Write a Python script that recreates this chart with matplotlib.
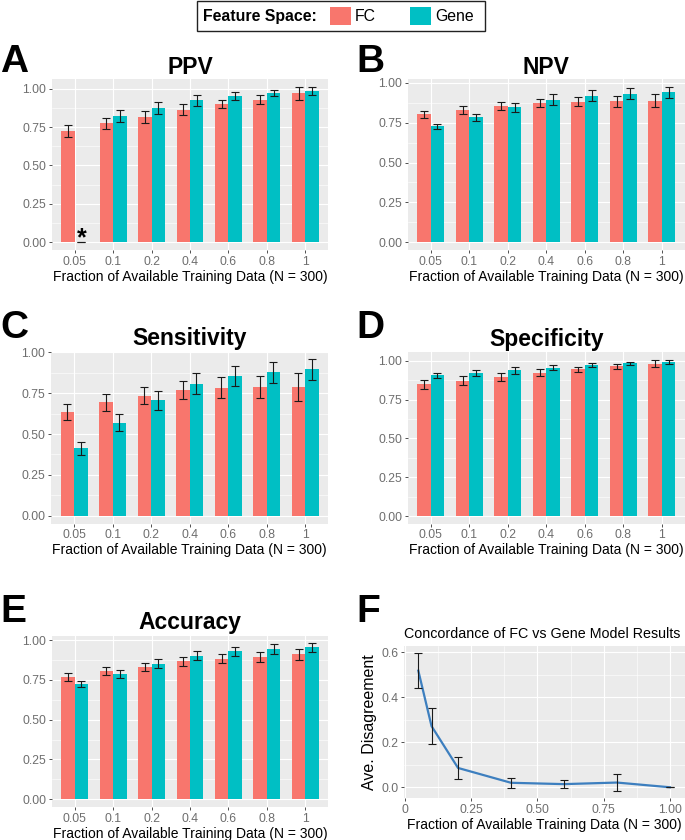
import matplotlib
matplotlib.use("Agg")
import matplotlib.pyplot as plt
from matplotlib.patches import Patch, Rectangle
from matplotlib.ticker import MultipleLocator
import numpy as np

FRACTIONS = ["0.05", "0.1", "0.2", "0.4", "0.6", "0.8", "1"]

PPV_FC = [0.725, 0.773, 0.814, 0.864, 0.898, 0.929, 0.970]
PPV_FC_ERR = [0.040, 0.038, 0.038, 0.035, 0.027, 0.029, 0.042]
PPV_GENE = [0.0, 0.820, 0.874, 0.924, 0.952, 0.974, 0.985]
PPV_GENE_ERR = [0.0, 0.040, 0.042, 0.037, 0.027, 0.020, 0.026]

NPV_FC = [0.804, 0.831, 0.854, 0.875, 0.883, 0.885, 0.889]
NPV_FC_ERR = [0.022, 0.023, 0.024, 0.027, 0.030, 0.033, 0.042]
NPV_GENE = [0.727, 0.785, 0.846, 0.896, 0.921, 0.933, 0.942]
NPV_GENE_ERR = [0.014, 0.022, 0.027, 0.032, 0.033, 0.033, 0.034]

SENS_FC = [0.637, 0.694, 0.735, 0.771, 0.784, 0.788, 0.790]
SENS_FC_ERR = [0.049, 0.050, 0.051, 0.056, 0.064, 0.067, 0.086]
SENS_GENE = [0.412, 0.569, 0.708, 0.808, 0.855, 0.878, 0.896]
SENS_GENE_ERR = [0.040, 0.053, 0.058, 0.064, 0.061, 0.065, 0.062]

SPEC_FC = [0.848, 0.873, 0.895, 0.925, 0.946, 0.964, 0.983]
SPEC_FC_ERR = [0.027, 0.028, 0.027, 0.021, 0.016, 0.016, 0.022]
SPEC_GENE = [0.906, 0.921, 0.938, 0.957, 0.974, 0.985, 0.991]
SPEC_GENE_ERR = [0.019, 0.020, 0.022, 0.018, 0.014, 0.009, 0.013]

ACC_FC = [0.767, 0.805, 0.834, 0.866, 0.884, 0.893, 0.910]
ACC_FC_ERR = [0.025, 0.024, 0.025, 0.027, 0.029, 0.031, 0.035]
ACC_GENE = [0.723, 0.788, 0.853, 0.903, 0.929, 0.943, 0.954]
ACC_GENE_ERR = [0.018, 0.023, 0.026, 0.031, 0.029, 0.031, 0.026]

# panel F: disagreement between the two models
CONC_X = [0.05, 0.1, 0.2, 0.4, 0.6, 0.8, 1.0]
CONC_Y = [0.519, 0.272, 0.086, 0.020, 0.014, 0.021, 0.0]
CONC_ERR = [0.079, 0.080, 0.050, 0.023, 0.018, 0.038, 0.0]

FC_COLOR = "#F8766D"
GENE_COLOR = "#00BFC4"
LINE_COLOR = "#3D7FBF"
PANEL_BG = "#EBEBEB"
TICK_COLOR = "#6E6E6E"

W, H = 685, 840

plt.rcParams.update({
    "font.family": ["Liberation Sans", "DejaVu Sans"],
    "axes.spines.top": False,
    "axes.spines.right": False,
    "axes.spines.left": False,
    "axes.spines.bottom": False,
})


def px_axes(fig, x0, y0, x1, y1):
    # rect given in image pixels (top-left origin)
    return fig.add_axes([x0 / W, 1 - y1 / H, (x1 - x0) / W, (y1 - y0) / H])


def style_axes(ax):
    ax.set_facecolor(PANEL_BG)
    ax.set_axisbelow(True)
    ax.grid(which="major", color="white", linewidth=0.85)
    ax.grid(which="minor", color="white", linewidth=0.4)
    ax.tick_params(which="major", length=2.5, width=0.6, color="#333333",
                   labelcolor=TICK_COLOR, labelsize=8.8, pad=1.5)
    ax.tick_params(which="minor", length=0)


def bar_panel(fig, rect, title, fc, fc_err, gene, gene_err, title_pad):
    ax = px_axes(fig, *rect)
    style_axes(ax)
    x = np.arange(len(FRACTIONS))
    w = 0.35
    ax.bar(x - w / 2, fc, w, color=FC_COLOR, zorder=2)
    ax.bar(x + w / 2, gene, w, color=GENE_COLOR, zorder=2)
    for pos, vals, errs in [(x - w / 2, fc, fc_err), (x + w / 2, gene, gene_err)]:
        ax.errorbar(pos, vals, yerr=errs, fmt="none", ecolor="#1a1a1a",
                    elinewidth=0.8, capsize=2.6, capthick=0.8, zorder=3)
    lo = min(0, min(np.array(fc) - np.array(fc_err)), min(np.array(gene) - np.array(gene_err)))
    hi = max(max(np.array(fc) + np.array(fc_err)), max(np.array(gene) + np.array(gene_err)))
    pad = 0.05 * (hi - lo)
    ax.set_ylim(lo - pad, hi + pad)
    ax.set_xlim(-0.6, len(FRACTIONS) - 0.4)
    ax.set_xticks(x)
    ax.set_xticklabels(FRACTIONS)
    ax.set_yticks([0, 0.25, 0.5, 0.75, 1.0])
    ax.set_yticklabels(["0.00", "0.25", "0.50", "0.75", "1.00"])
    ax.yaxis.set_minor_locator(MultipleLocator(0.125))
    ax.set_xlabel("Fraction of Available Training Data (N = 300)", fontsize=10, labelpad=1.5)
    ax.set_title(title, fontsize=16.5, fontweight="bold", pad=title_pad)
    return ax


fig = plt.figure(figsize=(W / 100, H / 100), dpi=100)

axA = bar_panel(fig, (51.7, 79, 328.3, 250), "PPV", PPV_FC, PPV_FC_ERR, PPV_GENE, PPV_GENE_ERR, 1.5)
axA.text(0 + 0.175, -0.02, "*", ha="center", va="baseline", fontsize=18, fontweight="bold", zorder=4)
bar_panel(fig, (407.6, 79, 685, 250), "NPV", NPV_FC, NPV_FC_ERR, NPV_GENE, NPV_GENE_ERR, 1.5)
bar_panel(fig, (51, 351.5, 328.3, 523.5), "Sensitivity", SENS_FC, SENS_FC_ERR, SENS_GENE, SENS_GENE_ERR, 4.5)
bar_panel(fig, (407.6, 352.3, 685, 523.8), "Specificity", SPEC_FC, SPEC_FC_ERR, SPEC_GENE, SPEC_GENE_ERR, 4.5)
bar_panel(fig, (51.7, 635.5, 328.3, 807), "Accuracy", ACC_FC, ACC_FC_ERR, ACC_GENE, ACC_GENE_ERR, 4.5)

# F: line with error bars
axF = px_axes(fig, 404, 646, 685, 798)
style_axes(axF)
axF.plot(CONC_X, CONC_Y, color=LINE_COLOR, linewidth=1.6, zorder=2)
axF.errorbar(CONC_X, CONC_Y, yerr=CONC_ERR, fmt="none", ecolor="#1a1a1a",
             elinewidth=0.8, capsize=2.6, capthick=0.8, zorder=3)
lo = min(np.array(CONC_Y) - np.array(CONC_ERR))
hi = max(np.array(CONC_Y) + np.array(CONC_ERR))
pad = 0.05 * (hi - lo)
axF.set_ylim(lo - pad, hi + pad)
axF.set_xlim(-0.004, 1.057)
axF.set_xticks([0, 0.25, 0.5, 0.75, 1.0])
axF.set_xticklabels(["0", "0.25", "0.50", "0.75", "1.00"])
axF.xaxis.set_minor_locator(MultipleLocator(0.125))
axF.set_yticks([0, 0.2, 0.4, 0.6])
axF.set_yticklabels(["0.0", "0.2", "0.4", "0.6"])
axF.yaxis.set_minor_locator(MultipleLocator(0.1))
axF.set_xlabel("Fraction of Available Training Data (N = 300)", fontsize=10, labelpad=1.5)
axF.set_ylabel("Ave. Disagreement", fontsize=11.5, labelpad=3)
axF.set_title("Concordance of FC vs Gene Model Results", fontsize=10.3, pad=6, loc="left")

# panel letters
for letter, lx, ly in [("A", 0, 72), ("B", 356, 72), ("C", 0, 338),
                       ("D", 356, 338), ("E", 0, 622), ("F", 356, 622)]:
    fig.text(lx / W, 1 - ly / H, letter, fontsize=28, fontweight="bold",
             ha="left", va="baseline")

# top legend
fig.patches.append(Rectangle((197 / W, 1 - 31 / H), (485 - 197) / W, 30 / H,
                             transform=fig.transFigure, fill=False,
                             edgecolor="#222222", linewidth=1.0))
fig.text(203 / W, 1 - 16 / H, "Feature Space:", fontsize=11.4, fontweight="bold",
         ha="left", va="center")
handles = [Patch(facecolor=FC_COLOR, label="FC"), Patch(facecolor=GENE_COLOR, label="Gene")]
fig.legend(handles=handles, loc="center left", bbox_to_anchor=(330 / W, 1 - 16 / H),
           ncol=2, frameon=False, fontsize=11.4, handlelength=1.3, handleheight=1.3,
           handletextpad=0.25, columnspacing=2.2, borderpad=0, borderaxespad=0)

fig.savefig("out.png", dpi=100)
